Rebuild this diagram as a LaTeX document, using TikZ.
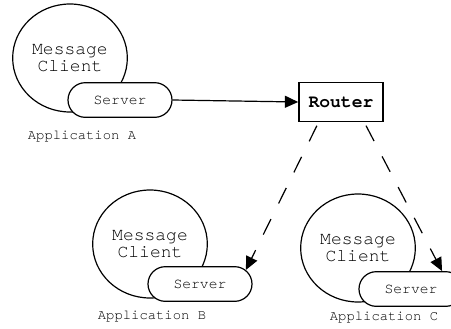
\documentclass[tikz,border=0pt]{standalone}
\usepackage{fontspec}
\setmonofont{texgyrecursor}[Extension=.otf,UprightFont=*-regular,BoldFont=*-bold]
\usetikzlibrary{shapes.geometric,shapes.misc,arrows.meta}

\begin{document}
\begin{tikzpicture}[x=0.75pt,y=-0.75pt,>={Triangle[length=10pt,width=9pt]},line width=0.9pt,
client/.style={ellipse,draw,fill=white,inner sep=0pt,minimum width=86pt,minimum height=81pt,align=center,font=\ttfamily\fontsize{13.5}{13}\selectfont},
server/.style={rounded rectangle,draw,fill=white,inner sep=0pt,minimum width=78pt,minimum height=26pt,font=\ttfamily\fontsize{11}{11}\selectfont},
applabel/.style={inner sep=0pt,font=\ttfamily\fontsize{10.4}{11}\selectfont},
routerbox/.style={rectangle,draw,line width=1.2pt,minimum width=63pt,minimum height=29pt,font=\ttfamily\bfseries\fontsize{13.5}{13}\selectfont},
dashedlink/.style={->,dash pattern=on 13pt off 13pt,shorten <=3pt}]
\useasboundingbox (0,0) rectangle (451,329);
\foreach \n/\c/\s/\l in %
{A/{70,58}/{120,100}/{82,137},B/{150,244}/{200,284}/{152,317},C/{358,248}/{411,289}/{384,318}} {
   \node[client] (client\n) at (\c) {Message\\Client};
   \node[server] (server\n) at (\s) {Server};
   \node[applabel] (app\n) at (\l) {Application \n};
}
\node[routerbox] (router) at (341,102) {Router};
\draw[->] (serverA.east) -- (router.west);
\draw[dashedlink] (router.222) -- (serverB.17);
\draw[dashedlink] (router.319) -- (serverC.30);
\end{tikzpicture}
\end{document}
